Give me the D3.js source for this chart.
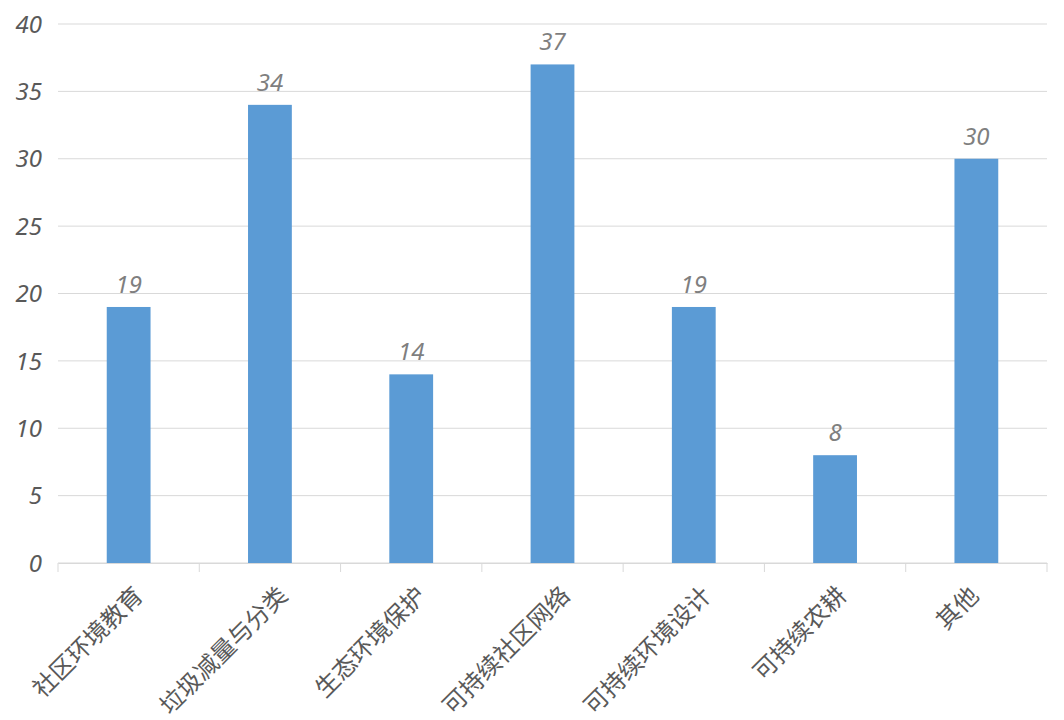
<!DOCTYPE html>
<html>
<head>
<meta charset="utf-8">
<script src="https://cdn.jsdelivr.net/npm/d3@7"></script>
<style>
  body { margin: 0; background: #fff; }
  svg text { font-family: "Noto Sans", "Noto Sans CJK SC", sans-serif; }
</style>
</head>
<body>
<div id="chart"></div>
<script>
// Chart data
const categories = ["社区环境教育", "垃圾减量与分类", "生态环境保护", "可持续社区网络", "可持续环境设计", "可持续农耕", "其他"];
const values = [19, 34, 14, 37, 19, 8, 30];
const yTicks = [0, 5, 10, 15, 20, 25, 30, 35, 40];

const width = 1064;
const height = 720;
const margin = { top: 24, right: 17, bottom: 157, left: 58 };

const svg = d3.select("#chart").append("svg")
    .attr("width", width)
    .attr("height", height);

// Scales
const x = d3.scaleBand()
    .domain(categories)
    .range([margin.left, width - margin.right])
    .paddingInner(0.69)
    .paddingOuter(0.345);

const xBand = d3.scaleBand()
    .domain(categories)
    .range([margin.left, width - margin.right]);

const y = d3.scaleLinear()
    .domain([0, 40])
    .range([height - margin.bottom, margin.top]);

// Gridlines
svg.append("g")
    .selectAll("line")
    .data(yTicks)
    .enter()
    .append("line")
    .attr("x1", margin.left)
    .attr("x2", width - margin.right)
    .attr("y1", d => y(d))
    .attr("y2", d => y(d))
    .attr("stroke", "#d9d9d9")
    .attr("stroke-width", 1);

// Y axis labels
svg.append("g")
    .selectAll("text")
    .data(yTicks)
    .enter()
    .append("text")
    .attr("x", margin.left - 16)
    .attr("y", d => y(d))
    .attr("dy", "0.36em")
    .attr("text-anchor", "end")
    .attr("font-size", 24)
    .attr("font-style", "italic")
    .attr("fill", "#595959")
    .text(d => d);

// X axis line and ticks at category boundaries
const xAxis = d3.axisBottom(xBand).tickSize(0).tickFormat("");
svg.append("g")
    .attr("transform", `translate(0,${y(0)})`)
    .call(xAxis)
    .call(g => g.select(".domain").attr("stroke", "#d9d9d9"));

const boundaries = categories.map(c => xBand(c)).concat([width - margin.right]);
svg.append("g")
    .selectAll("line")
    .data(boundaries)
    .enter()
    .append("line")
    .attr("x1", d => d)
    .attr("x2", d => d)
    .attr("y1", y(0))
    .attr("y2", y(0) + 9)
    .attr("stroke", "#d9d9d9");

// Bars
svg.append("g")
    .selectAll("rect")
    .data(values)
    .enter()
    .append("rect")
    .attr("x", (d, i) => x(categories[i]))
    .attr("width", x.bandwidth())
    .attr("y", d => y(d))
    .attr("height", d => y(0) - y(d))
    .attr("fill", "#5b9bd5");

// Value labels
svg.append("g")
    .selectAll("text")
    .data(values)
    .enter()
    .append("text")
    .attr("x", (d, i) => x(categories[i]) + x.bandwidth() / 2)
    .attr("y", d => y(d) - 14)
    .attr("text-anchor", "middle")
    .attr("font-size", 24)
    .attr("font-style", "italic")
    .attr("fill", "#7f7f7f")
    .text(d => d);

// Category labels, rotated; longer labels sit a bit further right
svg.append("g")
    .selectAll("text")
    .data(categories)
    .enter()
    .append("text")
    .attr("transform", d => `translate(${xBand(d) + xBand.bandwidth() / 2 - 8 + 3 * d.length},${y(0) + 28}) rotate(-45)`)
    .attr("text-anchor", "end")
    .attr("dy", "0.35em")
    .attr("font-size", 24)
    .attr("font-family", "'Noto Sans CJK SC', sans-serif")
    .attr("fill", "#595959")
    .text(d => d);
</script>
</body>
</html>
